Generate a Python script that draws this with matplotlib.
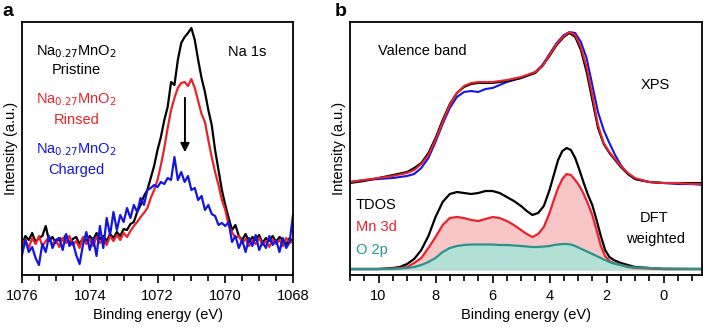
import numpy as np
import matplotlib
matplotlib.use('Agg')
from matplotlib import pyplot as plt
from matplotlib.ticker import MultipleLocator

plt.rcParams['font.family'] = ['Liberation Sans', 'DejaVu Sans']
plt.rcParams['font.size'] = 10.5

# ---------------- panel a: Na 1s (intensity in arbitrary units) ----------------
na_energy = np.round(np.arange(1076.0, 1067.95, -0.1), 1)
na_pristine = [245, 236, 240, 233, 242, 238, 236, 226, 241, 237, 243, 238, 240, 235, 243, 239, 237, 244, 238, 241,
               236, 240, 233, 239, 236, 241, 234, 238, 232, 236, 229, 230, 224, 222, 212, 205, 196, 190, 178, 166,
               150, 137, 120, 107, 82, 85, 60, 43, 37, 33, 28, 40, 60, 78, 92, 110, 125, 150, 170, 190,
               205, 218, 230, 225, 236, 240, 234, 242, 237, 240, 235, 243, 238, 241, 236, 242, 237, 240, 244, 238, 242]
na_rinsed = [243, 240, 248, 238, 244, 236, 246, 241, 237, 245, 240, 247, 238, 243, 236, 245, 241, 248, 237, 244,
             239, 246, 237, 243, 238, 245, 236, 241, 235, 240, 233, 237, 231, 226, 222, 217, 213, 208, 198, 190,
             180, 165, 148, 128, 110, 98, 88, 83, 82, 86, 79, 88, 101, 114, 122, 140, 157, 172, 185, 200,
             210, 225, 232, 238, 236, 243, 239, 246, 240, 244, 238, 245, 241, 247, 239, 244, 240, 246, 238, 243, 241]
na_charged = [255, 240, 252, 247, 258, 265, 244, 252, 236, 248, 240, 238, 250, 234, 246, 242, 255, 264, 245, 232,
              250, 238, 256, 226, 248, 218, 235, 212, 230, 215, 222, 208, 218, 205, 212, 198, 205, 190, 188, 185,
              187, 182, 184, 178, 180, 157, 180, 172, 182, 176, 190, 188, 200, 196, 210, 205, 214, 216, 225, 223,
              226, 222, 242, 236, 248, 240, 252, 238, 246, 235, 250, 242, 248, 236, 245, 240, 252, 238, 248, 242, 215]

# ---------------- panel b: valence band ----------------
xps_energy = [11, 10.5, 10, 9.5, 9, 8.75, 8.5, 8.25, 8, 7.75, 7.5, 7.25, 7, 6.75, 6.5, 6.25, 6, 5.5, 5, 4.5,
              4.25, 4, 3.75, 3.5, 3.3, 3.1, 2.9, 2.7, 2.5, 2.3, 2.1, 1.9, 1.7, 1.5, 1.25, 1, 0.5, 0, -0.5, -1, -1.4]
xps_pristine = [183, 181, 178, 175, 172, 168, 163, 153, 138, 120, 104, 93, 87, 84, 83, 83, 83, 81, 78, 73,
                66, 56, 45, 37, 33, 37, 50, 72, 100, 128, 144, 153, 160, 167, 174, 179, 182, 183, 183, 183, 183]
xps_rinsed = [182, 180, 178, 176, 173, 170, 164, 155, 140, 122, 105, 93, 86, 83, 82, 82, 82, 80, 77, 72,
              66, 55, 44, 36, 32, 35, 47, 67, 95, 125, 143, 152, 159, 166, 173, 178, 182, 183, 183, 184, 184]
xps_charged = [182, 180, 179, 178, 176, 174, 168, 158, 142, 124, 108, 97, 92, 91, 92, 89, 88, 82, 78, 72,
               65, 54, 43, 35, 32, 33, 42, 58, 85, 112, 130, 143, 155, 165, 174, 179, 182, 183, 184, 184, 185]

dos_energy = [11, 10, 9.5, 9.25, 9, 8.75, 8.5, 8.25, 8, 7.75, 7.5, 7.25, 7, 6.75, 6.5, 6.25, 6, 5.75, 5.5, 5.25,
              5, 4.8, 4.6, 4.4, 4.2, 4, 3.85, 3.7, 3.55, 3.4, 3.25, 3.1, 2.95, 2.8, 2.65, 2.5, 2.35, 2.2, 2.05, 1.9,
              1.75, 1.5, 1.25, 1, 0.5, 0, -1.4]
tdos = [269, 269, 268, 267, 264, 259, 250, 236, 217, 202, 194, 192, 193, 194, 193, 191, 191, 193, 197, 201,
        206, 211, 215, 213, 206, 190, 175, 160, 151, 148, 150, 158, 170, 183, 195, 205, 220, 236, 250, 257,
        260, 263, 265, 267, 268, 269, 269]
mn3d = [269, 269, 268.5, 268, 267, 263, 258, 248, 237, 225, 218, 217, 218, 220, 221, 219, 217, 218, 221, 225,
        230, 234, 237, 234, 227, 213, 200, 188, 179, 174, 175, 180, 186, 194, 204, 215, 230, 246, 256, 261,
        263, 265, 267, 268, 268.5, 269, 269]
o2p = [269, 269, 269, 268.5, 268, 267, 265, 262, 258, 252, 248, 246, 245, 244.5, 244.5, 244.5, 244.5, 245, 245, 245.5,
       246, 246.5, 247, 247, 246.5, 246, 245, 244.5, 244, 244, 244.5, 246, 248, 250, 252, 254, 256, 258, 260, 262,
       263.5, 265, 266.5, 267.5, 268, 268.5, 269]

TOP = 275  # values above were read as pixel rows; flip to intensity
def flip(v):
    return TOP - np.asarray(v, dtype=float)

BLACK = '#000000'
RED = '#e8232b'
BLUE = '#1515e0'
TEAL = '#2a938e'

fig = plt.figure(figsize=(7.03, 3.27), dpi=100)
ax_a = fig.add_axes([0.0313, 0.159, 0.3855, 0.7737])
ax_b = fig.add_axes([0.4979, 0.159, 0.5007, 0.7737])

for ax in (ax_a, ax_b):
    for s in ax.spines.values():
        s.set_linewidth(1.3)
    ax.set_yticks([])
    ax.tick_params(axis='x', which='major', direction='out', length=6, width=1.2, pad=4, labelsize=10.5)
    ax.tick_params(axis='x', which='minor', direction='out', length=4, width=1.2)
    ax.set_xlabel('Binding energy (eV)', fontsize=10.5, labelpad=4)
    ax.set_ylabel('Intensity (a.u.)', fontsize=10.5, labelpad=3)
    ax.set_ylim(0, 253)

# panel a
ax_a.plot(na_energy, flip(na_pristine), color=BLACK, lw=1.6)
ax_a.plot(na_energy, flip(na_rinsed), color=RED, lw=1.6)
ax_a.plot(na_energy, flip(na_charged), color=BLUE, lw=1.6)
ax_a.set_xlim(1076, 1068)
ax_a.xaxis.set_major_locator(MultipleLocator(2))
ax_a.xaxis.set_minor_locator(MultipleLocator(0.5))
ax_a.annotate('', xy=(1071.19, TOP - 155), xytext=(1071.19, TOP - 95),
              arrowprops=dict(arrowstyle='-|>', color='black', lw=1.4, mutation_scale=13))
ax_a.text(1074.4, TOP - 52, r'Na$_{0.27}$MnO$_2$', color=BLACK, ha='center', va='center')
ax_a.text(1074.4, TOP - 70, 'Pristine', color=BLACK, ha='center', va='center')
ax_a.text(1074.4, TOP - 100, r'Na$_{0.27}$MnO$_2$', color=RED, ha='center', va='center')
ax_a.text(1074.4, TOP - 120, 'Rinsed', color=RED, ha='center', va='center')
ax_a.text(1074.4, TOP - 150, r'Na$_{0.27}$MnO$_2$', color=BLUE, ha='center', va='center')
ax_a.text(1074.4, TOP - 170, 'Charged', color=BLUE, ha='center', va='center')
ax_a.text(1069.35, TOP - 52, 'Na 1s', color=BLACK, ha='center', va='center')

# panel b
base = TOP - 270
ax_b.fill_between(dos_energy, flip(mn3d), base, color='#f8c6c6', lw=0)
ax_b.fill_between(dos_energy, flip(o2p), base, color='#b3e0d5', lw=0)
ax_b.plot(dos_energy, flip(tdos), color=BLACK, lw=1.6)
ax_b.plot(dos_energy, flip(mn3d), color=RED, lw=1.6)
ax_b.plot(dos_energy, flip(o2p), color=TEAL, lw=1.6)
ax_b.plot(xps_energy, flip(xps_charged), color=BLUE, lw=1.5)
ax_b.plot(xps_energy, flip(xps_pristine), color=BLACK, lw=1.5)
ax_b.plot(xps_energy, flip(xps_rinsed), color=RED, lw=1.5)
ax_b.set_xlim(11, -1.35)
ax_b.xaxis.set_major_locator(MultipleLocator(2))
ax_b.xaxis.set_minor_locator(MultipleLocator(0.5))
ax_b.text(8.46, TOP - 51, 'Valence band', ha='center', va='center')
ax_b.text(0.3, TOP - 85, 'XPS', ha='center', va='center')
ax_b.text(10.8, TOP - 205, 'TDOS', color=BLACK, ha='left', va='center')
ax_b.text(10.8, TOP - 227, 'Mn 3d', color=RED, ha='left', va='center')
ax_b.text(10.8, TOP - 250, 'O 2p', color=TEAL, ha='left', va='center')
ax_b.text(0.33, TOP - 218, 'DFT', ha='center', va='center')
ax_b.text(0.28, TOP - 239, 'weighted', ha='center', va='center')

fig.text(0.003, 0.965, 'a', fontsize=14, fontweight='bold', ha='left', va='center')
fig.text(0.476, 0.965, 'b', fontsize=14, fontweight='bold', ha='left', va='center')

fig.savefig('out.png', dpi=100)
